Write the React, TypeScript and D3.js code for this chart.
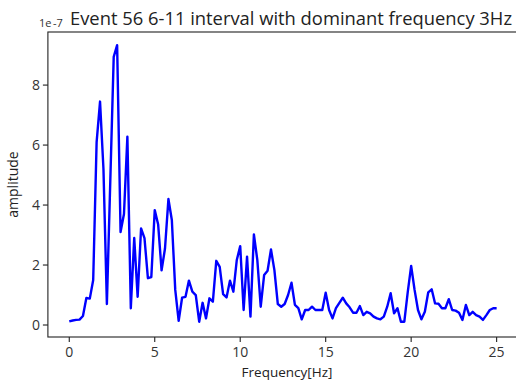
import React from "react";
import * as d3 from "d3";

const freqStep = 0.2;
const amplitude: number[] = [
  0.12, 0.15, 0.17, 0.18, 0.3, 0.9, 0.88, 1.5, 6.1, 7.45,
  5.2, 0.7, 4.8, 8.94, 9.33, 3.1, 3.7, 6.28, 0.56, 2.9,
  0.94, 3.22, 2.9, 1.56, 1.6, 3.83, 3.35, 1.82, 2.55, 4.2,
  3.5, 1.17, 0.14, 0.91, 0.94, 1.48, 1.11, 1.0, 0.11, 0.74,
  0.22, 0.89, 0.78, 2.14, 1.94, 1.03, 0.92, 1.48, 1.11, 2.17,
  2.63, 0.5, 2.28, 0.28, 3.02, 2.17, 0.61, 1.67, 1.81, 2.52,
  1.83, 0.7, 0.61, 0.7, 1.0, 1.41, 0.67, 0.56, 0.19, 0.5,
  0.5, 0.61, 0.5, 0.5, 0.5, 1.08, 0.5, 0.22, 0.56, 0.74,
  0.91, 0.72, 0.59, 0.41, 0.41, 0.63, 0.33, 0.44, 0.39, 0.28,
  0.22, 0.19, 0.28, 0.61, 1.06, 0.39, 0.56, 0.11, 0.11, 1.1,
  1.97, 1.17, 0.5, 0.19, 0.44, 1.09, 1.19, 0.72, 0.71, 0.56,
  0.56, 0.86, 0.5, 0.48, 0.41, 0.17, 0.67, 0.33, 0.44, 0.33,
  0.28, 0.17, 0.33, 0.5, 0.56, 0.56,
];
const frequency: number[] = amplitude.map((_, i) => +(i * freqStep).toFixed(2));
const xTicks = [0, 5, 10, 15, 20, 25];
const yTicks = [0, 2, 4, 6, 8];
const titleText = "Event 56 6-11 interval with dominant frequency 3Hz";
const xLabel = "Frequency[Hz]";
const yLabel = "amplitude";

export default function App() {
  const W = 516, H = 381;
  const left = 47.9, right = 518, top = 32, bottom = 337;
  const x = d3.scaleLinear().domain([-1.25, 26.25]).range([left, right]);
  const y = d3.scaleLinear().domain([-0.4, 9.77]).range([bottom, top]);
  const pts: [number, number][] = frequency.map((f, i) => [f, amplitude[i]]);
  const line = d3.line<[number, number]>().x(d => x(d[0])).y(d => y(d[1]));
  const font = "'Open Sans', sans-serif";
  return (
    <svg width={W} height={H} style={{ position: "absolute", left: 0, top: 0 }}>
      <rect width={W} height={H} fill="#fff" />
      <path d={line(pts) ?? ""} fill="none" stroke="#0000ff" strokeWidth={2.4} strokeLinejoin="round" />
      <rect x={left} y={top} width={right - left} height={bottom - top} fill="none" stroke="#222" strokeWidth={1.1} />
      {xTicks.map(t => (
        <g key={"x" + t}>
          <line x1={x(t)} x2={x(t)} y1={bottom} y2={bottom + 5} stroke="#222" strokeWidth={1.1} />
          <text x={x(t)} y={bottom + 20} fontSize={14} fontFamily={font} textAnchor="middle" fill="#333">{t}</text>
        </g>
      ))}
      {yTicks.map(t => (
        <g key={"y" + t}>
          <line x1={left - 5} x2={left} y1={y(t)} y2={y(t)} stroke="#222" strokeWidth={1.1} />
          <text x={left - 8} y={y(t) + 5} fontSize={14} fontFamily={font} textAnchor="end" fill="#333">{t}</text>
        </g>
      ))}
      <text x={39} y={27} fontSize={11} fontFamily={font} fill="#333">1e<tspan dx={1.5}>-7</tspan></text>
      <text x={70} y={25} fontSize={17.5} fontFamily={font} textLength={442} lengthAdjust="spacingAndGlyphs" fill="#222">{titleText}</text>
      <text x={287} y={377} fontSize={13.5} fontFamily={font} textAnchor="middle" fill="#222">{xLabel}</text>
      <text transform={`translate(18,${(top + bottom) / 2}) rotate(-90)`} fontSize={14} fontFamily={font} textAnchor="middle" fill="#222">{yLabel}</text>
    </svg>
  );
}
